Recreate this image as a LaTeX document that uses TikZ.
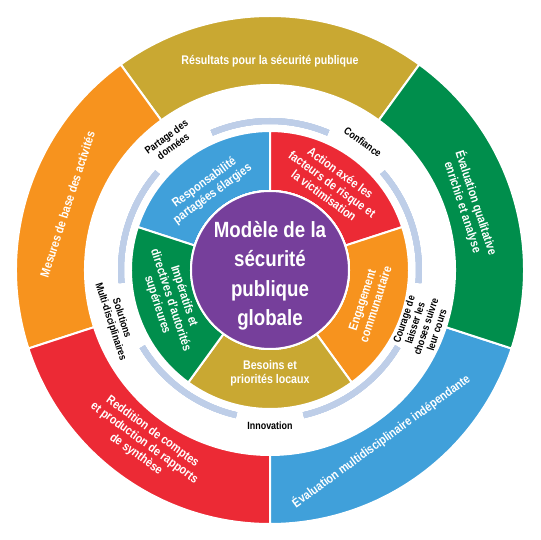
\documentclass[tikz,border=0pt]{standalone}
\usepackage{fontspec}
\setmainfont{Liberation Sans}[FakeStretch=0.85]
\definecolor{cgold}{HTML}{C9A832}
\definecolor{corange}{HTML}{F7931E}
\definecolor{cred}{HTML}{EC2A35}
\definecolor{cblue}{HTML}{40A0DA}
\definecolor{cgreen}{HTML}{008E4C}
\definecolor{cpurple}{HTML}{763F9B}
\definecolor{clight}{HTML}{BECEE8}
\tikzset{
  seg/.style={draw=white,line width=2pt},
  gapline/.style={draw=clight,line width=6pt},
  wtxt/.style={text=white,align=center,font=\bfseries\fontsize{12.5}{14}\selectfont},
  ktxt/.style={text=black,align=center,font=\bfseries\fontsize{10.5}{11.5}\selectfont},
}
% start, end, inner radius, outer radius, colour
\newcommand{\ringpart}[5]{%
  \fill[#5,seg] (#1:#3pt) arc[start angle=#1,end angle=#2,radius=#3pt]
    -- (#2:#4pt) arc[start angle=#2,end angle=#1,radius=#4pt] -- cycle;}
\begin{document}
\begin{tikzpicture}[x=1pt,y=1pt,line join=round]
\useasboundingbox (-270,-270) rectangle (270,270);
\def\ri{185}\def\ro{254}
% outer ring
\foreach \a/\b/\c in {54/126/cgold,126/198/corange,198/270/cred,270/342/cblue,342/414/cgreen}
  \ringpart{\a}{\b}{\ri}{\ro}{\c}
% light arcs between the labels
\foreach \a in {54,126,198,270,342}
  \draw[gapline] ({\a+13}:149pt) arc[start angle=\a+13,end angle=\a+59,radius=149pt];
% inner ring
\foreach \a/\b/\c in {90/162/cblue,18/90/cred,-54/18/corange,-126/-54/cgold,162/234/cgreen}
  \ringpart{\a}{\b}{79}{139}{\c}
\fill[cpurple,draw=white,line width=2pt] (0,0) circle(79pt);
% centre
\node[wtxt,font=\bfseries\fontsize{22}{29.5}\selectfont] (model) at (0,-6) {Modèle de la\\sécurité\\publique\\globale};
% outer texts
\node[wtxt] (resultats) at (90:209) {Résultats pour la sécurité publique};
\node[wtxt,rotate=72] (mesures) at (162:213) {Mesures de base des activités};
\node[wtxt,rotate=-72] (qualit) at (18:210) {Évaluation qualitative\\enrichie et analyse};
\node[wtxt,rotate=36] (multi) at (303:204) {Évaluation multidisciplinaire indépendante};
\node[wtxt,rotate=-36] (reddition) at (234:214) {Reddition de comptes\\et production de rapports\\de synthèse};
% inner texts
\node[wtxt,rotate=36] (respons) at (127:102) {Responsabilité\\partagées élargies};
\node[wtxt,rotate=-36] (action) at (54:106) {Action axée les\\facteurs de risque et\\la victimisation};
\node[wtxt,rotate=72] (engag) at (-18:104) {Engagement\\communautaire};
\node[wtxt] (besoins) at (-90:103) {Besoins et\\priorités locaux};
\node[wtxt,rotate=-72] (imper) at (197:104) {Impératifs et\\directives d'autorités\\supérieures};
% labels on the light ring
\node[ktxt,rotate=36] (partage) at (128:163) {Partage des\\données};
\node[ktxt,rotate=-36] (confiance) at (54:158) {Confiance};
\node[ktxt,rotate=72] (courage) at (-20:160) {Courage de\\laisser les\\choses suivre\\leur cours};
\node[ktxt] (innov) at (-90:156) {Innovation};
\node[ktxt,rotate=-72] (solutions) at (198:162) {Solutions\\Multi-disciplinaires};
\end{tikzpicture}
\end{document}
